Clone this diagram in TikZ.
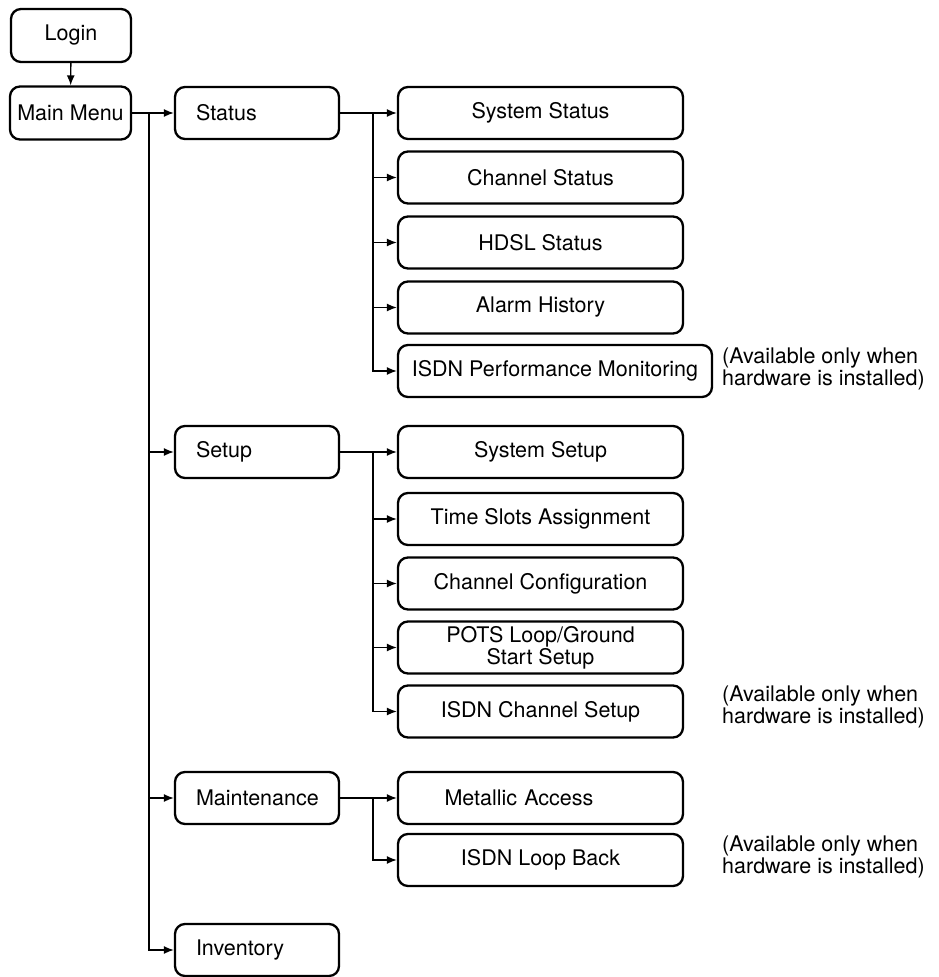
\documentclass[tikz,border=0pt]{standalone}
\usepackage{fontspec}
\setmainfont{TeX Gyre Heros}
\usetikzlibrary{arrows.meta}
\begin{document}
\begin{tikzpicture}[x=1pt,y=-1pt,
  every node/.style={font=\fontsize{21.5}{20}\selectfont},
  box/.style={draw, line width=2.3pt, rounded corners=10pt, inner sep=0pt, align=center},
  mainbox/.style={box, minimum width=164pt, minimum height=52pt, text width=122pt, align=left, inner xsep=21pt},
  subbox/.style={box, minimum width=285pt, minimum height=52pt},
  conn/.style={line width=1.4pt},
  arr/.style={conn, -{Latex[length=10pt,width=8pt]}},
  note/.style={anchor=west, inner sep=0pt, align=left, font=\fontsize{21.5}{22}\selectfont}
]
\useasboundingbox (0,0) rectangle (938,977);

\node[box, minimum width=120pt, minimum height=53pt] (login) at (71,35.5) {Login};
\node[box, minimum width=121pt, minimum height=53pt] (main) at (70.5,113) {Main Menu};
\draw[arr] (login) -- (main);

\node[mainbox] (status) at (257,113) {Status};
\node[mainbox] (setup) at (257,452) {Setup};
\node[mainbox] (maint) at (257,798) {Maintenance};
\node[mainbox] (inv) at (257,950) {Inventory};

\coordinate (t0) at (149,113);
\draw[conn] (main.east) -- (t0);
\draw[arr] (t0) -- (status.west);
\draw[arr] (t0) |- (setup.west);
\draw[arr] (t0) |- (maint.west);
\draw[arr] (t0) |- (inv.west);

% Status submenu
\node[subbox] (ss) at (540.5,113) {System Status};
\node[subbox] (cs) at (540.5,177.5) {Channel Status};
\node[subbox] (hs) at (540.5,242.5) {HDSL Status};
\node[subbox] (ah) at (540.5,307.5) {Alarm History};
\node[box, minimum width=314pt, minimum height=52pt] (ipm) at (555,371) {ISDN Performance Monitoring};
\coordinate (t1) at (373,113);
\draw[conn] (status.east) -- (t1);
\draw[arr] (t1) -- (ss.west);
\draw[arr] (t1) |- (cs.west);
\draw[arr] (t1) |- (hs.west);
\draw[arr] (t1) |- (ah.west);
\draw[arr] (t1) |- (ipm.west);
\node[note] (n1) at (722,369) {(Available only when\\hardware is installed)};

% Setup submenu
\node[subbox] (sys) at (540.5,452) {System Setup};
\node[subbox] (tsa) at (540.5,519) {Time Slots Assignment};
\node[subbox] (cc) at (540.5,583.5) {Channel Configuration};
\node[subbox] (pots) at (540.5,647.5) {POTS Loop/Ground\\Start Setup};
\node[subbox] (ics) at (540.5,711.5) {ISDN Channel Setup};
\coordinate (t2) at (373,452);
\draw[conn] (setup.east) -- (t2);
\draw[arr] (t2) -- (sys.west);
\draw[arr] (t2) |- (tsa.west);
\draw[arr] (t2) |- (cc.west);
\draw[arr] (t2) |- (pots.west);
\draw[arr] (t2) |- (ics.west);
\node[note] (n2) at (722,707) {(Available only when\\hardware is installed)};

% Maintenance submenu
\node[subbox, text width=240pt, align=left, inner xsep=0pt] (ma) at (540.5,798) {\hspace*{24pt}Metallic Access};
\node[subbox] (ilb) at (540.5,860) {ISDN Loop Back};
\coordinate (t3) at (373,798);
\draw[conn] (maint.east) -- (t3);
\draw[arr] (t3) -- (ma.west);
\draw[arr] (t3) |- (ilb.west);
\node[note] (n3) at (722,857) {(Available only when\\hardware is installed)};
\end{tikzpicture}
\end{document}
